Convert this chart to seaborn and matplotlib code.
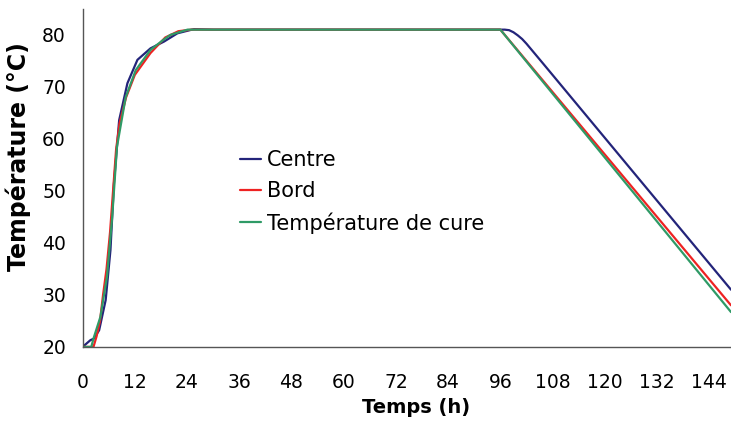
import seaborn as sns
import matplotlib
matplotlib.use("Agg")
import matplotlib.pyplot as plt
import pandas as pd

# values
hours_centre = [0, 1.8, 2.6, 3.8, 5.3, 6.4, 7.2, 8.4, 10.3, 12.6, 15.6, 18.7, 21.8, 25.6, 30,
                96, 97, 98, 99, 100, 101, 102, 103, 104, 106, 149]
temp_centre = [20, 21.3, 21.6, 23.2, 29, 38.6, 51.4, 63.6, 70.7, 75.2, 77.4, 78.7, 80.3, 81.1, 81,
               81, 81, 80.9, 80.5, 79.9, 79.2, 78.3, 77.3, 76.3, 74.3, 31.0]

hours_bord = [0, 2.5, 3.2, 4.0, 4.7, 5.5, 6.3, 7.0, 7.7, 8.5, 10, 12, 15.6, 19, 22, 25, 96, 149]
temp_bord = [20, 20, 22, 25, 30, 35, 42, 50, 58, 63, 68, 72.3, 76.5, 79.5, 80.7, 81, 81, 28.0]

hours_cure = [0, 2, 2.5, 4.1, 5.6, 6.8, 7.9, 9.9, 12.2, 15.6, 18.5, 20.2, 24.1, 96, 149]
temp_cure = [20, 20, 21.6, 25.8, 33.5, 45, 58.5, 68, 73.2, 77.1, 79, 80, 81, 81, 26.7]

series = ["Centre", "Bord", "Température de cure"]
colors = {"Centre": "#23247a", "Bord": "#ee2222", "Température de cure": "#2f9a66"}
x_ticks = list(range(0, 145, 12))
y_ticks = list(range(20, 81, 10))

df = pd.concat([
    pd.DataFrame({"Temps": hours_centre, "Temp": temp_centre, "Série": series[0]}),
    pd.DataFrame({"Temps": hours_bord, "Temp": temp_bord, "Série": series[1]}),
    pd.DataFrame({"Temps": hours_cure, "Temp": temp_cure, "Série": series[2]}),
])

sns.set_style("white")
plt.rcParams['font.family'] = ['DejaVu Sans']
plt.rcParams['text.color'] = 'black'
plt.rcParams['axes.labelcolor'] = 'black'
plt.rcParams['xtick.color'] = 'black'
plt.rcParams['ytick.color'] = 'black'

fig = plt.figure(figsize=(7.31, 4.21), dpi=100)
ax = fig.add_axes([0.113, 0.176, 0.887, 0.803])

sns.lineplot(data=df, x="Temps", y="Temp", hue="Série", palette=colors,
             hue_order=series, sort=False, estimator=None, linewidth=1.6, ax=ax)

ax.set_xlim(0, 149)
ax.set_ylim(20, 85)
ax.set_xticks(x_ticks)
ax.set_yticks(y_ticks)
ax.tick_params(axis="both", direction="out", length=6, width=1, color="#555555",
               labelsize=13.5, labelcolor="black")
ax.tick_params(axis="y", pad=6)
ax.tick_params(axis="x", pad=13)
for side in ["top", "right"]:
    ax.spines[side].set_visible(False)
for side in ["left", "bottom"]:
    ax.spines[side].set_color("#555555")
    ax.spines[side].set_linewidth(1)

ax.set_xlabel("Temps (h)", fontsize=14, fontweight="bold")
ax.set_ylabel("Température (°C)", fontsize=17, fontweight="bold")
ax.xaxis.set_label_coords(0.515, -0.152)
ax.yaxis.set_label_coords(-0.079, 0.564)

handles, labels = ax.get_legend_handles_labels()
ax.legend(handles, labels, loc="upper left", bbox_to_anchor=(0.242, 0.582),
          frameon=False, fontsize=15, handlelength=1.05, handletextpad=0.25,
          labelspacing=0.53, borderaxespad=0, borderpad=0)

fig.savefig("out.png", dpi=100)
